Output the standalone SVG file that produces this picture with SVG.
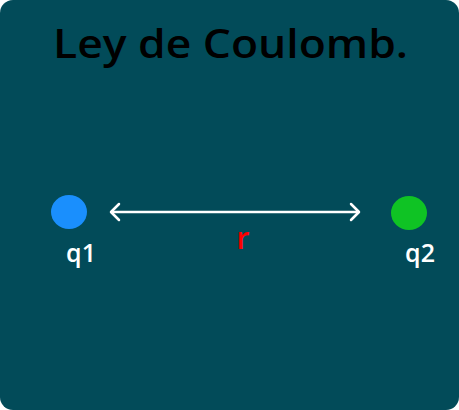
<svg xmlns="http://www.w3.org/2000/svg" width="459" height="410" viewBox="0 0 459 410">
<style>
.lbl{font-family:"Open Sans",Lato,"Liberation Sans",sans-serif;font-weight:600;fill:#ffffff;font-size:25px}
</style>
<defs>
<marker id="chev" viewBox="0 0 12 20" refX="10" refY="10" markerWidth="12" markerHeight="20" markerUnits="userSpaceOnUse" orient="auto-start-reverse">
<path d="M2,2 L10,10 L2,18" fill="none" stroke="#ffffff" stroke-width="2.5" stroke-linecap="round" stroke-linejoin="round"/>
</marker>
</defs>
<rect x="0" y="0" width="459" height="410" rx="13" fill="#024b59"/>
<text x="53" y="58" textLength="355" lengthAdjust="spacingAndGlyphs" font-family="'Open Sans',Lato,'Liberation Sans',sans-serif" font-size="39" font-weight="600" fill="#000000">Ley de Coulomb.</text>
<g id="q1">
<ellipse cx="69" cy="212" rx="18" ry="17" fill="#1a8ffd"/>
<text class="lbl" x="81" y="262" text-anchor="middle">q1</text>
</g>
<g id="q2">
<ellipse cx="409" cy="213" rx="18" ry="17" fill="#0fc324"/>
<text class="lbl" x="420" y="262" text-anchor="middle">q2</text>
</g>
<g id="connectors">
<line x1="111" y1="212" x2="359" y2="212" stroke="#ffffff" stroke-width="2.5" marker-start="url(#chev)" marker-end="url(#chev)"/>
<text x="243" y="249" text-anchor="middle" font-family="'Open Sans',Lato,'Liberation Sans',sans-serif" font-size="30" font-weight="600" fill="#ff0000">r</text>
</g>
</svg>
